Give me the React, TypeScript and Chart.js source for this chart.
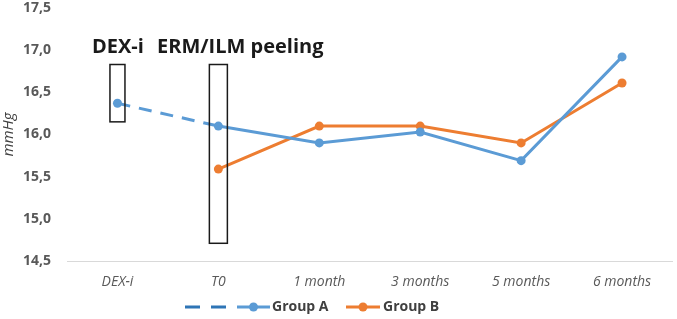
import React, { useEffect, useRef } from "react";
import { Chart, registerables } from "chart.js";

Chart.register(...registerables);

const categories = ["DEX-i", "T0", "1 month", "3 months", "5 months", "6 months"];
const groupA = [16.37, 16.1, 15.9, 16.03, 15.69, 16.92];
const groupB = [null, 15.59, 16.1, 16.1, 15.9, 16.61];
const yTicks = [14.5, 15.0, 15.5, 16.0, 16.5, 17.0, 17.5];
const annotationLabels = ["DEX-i", "ERM/ILM peeling"];
// boxes: [category index, top value, bottom value]
const boxCategories = [0, 1];
const boxTops = [16.83, 16.83];
const boxBottoms = [16.15, 14.71];

const BLUE = "#5B9BD5";
const ORANGE = "#ED7D31";
const DARKBLUE = "#2E75B6";

const overlayPlugin = {
  id: "overlay",
  afterDatasetsDraw(chart: any) {
    const { ctx } = chart;
    const x = chart.scales.x;
    const y = chart.scales.y;
    ctx.save();
    // boxes
    ctx.strokeStyle = "#1a1a1a";
    ctx.lineWidth = 1.5;
    boxCategories.forEach((ci, i) => {
      const cx = x.getPixelForValue(ci);
      const w = i === 0 ? 15 : 18;
      const top = y.getPixelForValue(boxTops[i]);
      const bot = y.getPixelForValue(boxBottoms[i]);
      ctx.strokeRect(cx - w / 2, top, w, bot - top);
    });
    // labels
    ctx.fillStyle = "#1a1a1a";
    ctx.font = "bold 20px 'Open Sans', sans-serif";
    ctx.textBaseline = "middle";
    ctx.textAlign = "left";
    ctx.fillText(annotationLabels[0], 92, 47);
    ctx.fillText(annotationLabels[1], 157, 47);

    // legend
    const ly = 307;
    ctx.lineWidth = 3;
    ctx.strokeStyle = DARKBLUE;
    ctx.setLineDash([15, 11]);
    ctx.beginPath();
    ctx.moveTo(185, ly);
    ctx.lineTo(227, ly);
    ctx.stroke();
    ctx.setLineDash([]);
    const items = [
      { x0: 237, x1: 270, color: BLUE, label: chart.data.datasets[0].label, tx: 272 },
      { x0: 346, x1: 380, color: ORANGE, label: chart.data.datasets[1].label, tx: 383 },
    ];
    ctx.font = "bold 14px 'Open Sans', sans-serif";
    items.forEach((it) => {
      ctx.strokeStyle = it.color;
      ctx.beginPath();
      ctx.moveTo(it.x0, ly);
      ctx.lineTo(it.x1, ly);
      ctx.stroke();
      ctx.fillStyle = it.color;
      ctx.beginPath();
      ctx.arc((it.x0 + it.x1) / 2, ly, 4.5, 0, Math.PI * 2);
      ctx.fill();
      ctx.fillStyle = "#404040";
      ctx.fillText(it.label, it.tx, ly);
    });
    ctx.restore();
  },
};

export default function App() {
  const ref = useRef<HTMLCanvasElement>(null);
  useEffect(() => {
    document.body.style.margin = "0";
    const chart = new Chart(ref.current!, {
      type: "line",
      data: {
        labels: categories,
        datasets: [
          {
            label: "Group A",
            data: groupA,
            borderColor: BLUE,
            backgroundColor: BLUE,
            borderWidth: 3,
            pointRadius: 4.5,
            pointHoverRadius: 4.5,
            pointBorderWidth: 0,
            tension: 0,
            segment: {
              borderDash: (c: any) => (c.p0DataIndex === 0 ? [13, 9] : undefined),
            },
          },
          {
            label: "Group B",
            data: groupB,
            borderColor: ORANGE,
            backgroundColor: ORANGE,
            borderWidth: 3,
            pointRadius: 4.5,
            pointHoverRadius: 4.5,
            pointBorderWidth: 0,
            tension: 0,
          },
        ],
      },
      options: {
        animation: false,
        responsive: false,
        layout: { padding: { top: 8, right: 2, left: 0, bottom: 0 } },
        plugins: { legend: { display: false }, tooltip: { enabled: false } },
        scales: {
          x: {
            offset: true,
            grid: { display: false, offset: true },
            border: { display: true, color: "#D9D9D9", width: 1 },
            ticks: {
              color: "#595959",
              font: { family: "'Open Sans', sans-serif", size: 14, style: "italic" },
              padding: 5,
              maxRotation: 0,
            },
            afterFit: (s: any) => {
              s.height = 58;
              s.paddingLeft = 0;
              s.paddingRight = 0;
            },
          },
          y: {
            min: 14.5,
            max: 17.5,
            afterBuildTicks: (s: any) => {
              s.ticks = yTicks.map((v) => ({ value: v }));
            },
            grid: { display: false },
            border: { display: false },
            ticks: {
              color: "#595959",
              font: { family: "'Open Sans', sans-serif", size: 14, weight: "bold" },
              padding: 8,
              callback: (v: any) => Number(v).toFixed(1).replace(".", ","),
            },
            title: {
              display: true,
              text: "mmHg",
              color: "#404040",
              font: { family: "'Open Sans', sans-serif", size: 15, style: "italic" },
              padding: 0,
            },
            afterFit: (s: any) => {
              s.width = 67;
              s.paddingTop = 0;
              s.paddingBottom = 0;
            },
          },
        },
      },
      plugins: [overlayPlugin],
    });
    return () => chart.destroy();
  }, []);
  return <canvas ref={ref} width={677} height={319} style={{ display: "block" }} />;
}
